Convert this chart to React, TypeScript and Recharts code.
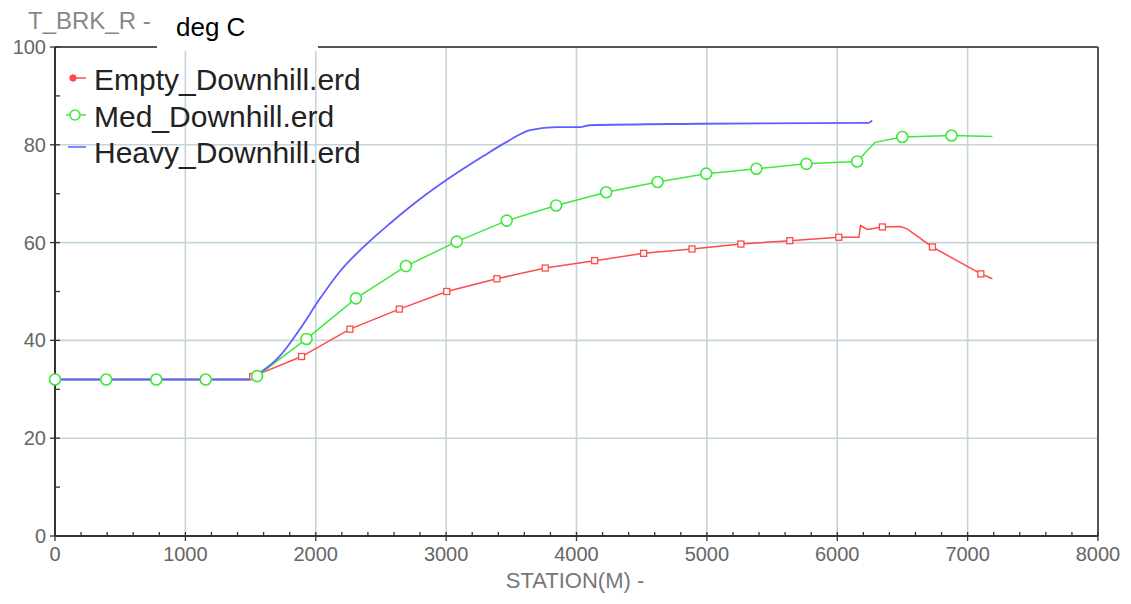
import React from "react";
import { LineChart, Line, XAxis, YAxis, ReferenceLine } from "recharts";

// station (m) / brake temperature (deg C)
const emptyStation = [0, 391, 766, 1141, 1494, 1516, 1891, 2262, 2641, 3005, 3389, 3760, 4139, 4515, 4886, 5261, 5636, 6012, 6166, 6179, 6230, 6346, 6485, 6536, 6730, 7101, 7190];
const emptyTemp = [32, 32, 32, 32, 32, 32.6, 36.7, 42.3, 46.4, 50.0, 52.6, 54.8, 56.3, 57.8, 58.7, 59.7, 60.4, 61.1, 61.1, 63.5, 62.7, 63.2, 63.3, 62.8, 59.1, 53.6, 52.6];
const emptyMarked = [1, 1, 1, 1, 0, 1, 1, 1, 1, 1, 1, 1, 1, 1, 1, 1, 1, 1, 0, 0, 0, 1, 0, 0, 1, 1, 0];

const medStation = [0, 393, 777, 1156, 1500, 1550, 1929, 2308, 2692, 3081, 3465, 3844, 4228, 4622, 4995, 5380, 5764, 6153, 6290, 6499, 6876, 7190];
const medTemp = [32, 32, 32, 32, 32, 32.7, 40.3, 48.6, 55.2, 60.2, 64.5, 67.6, 70.3, 72.4, 74.1, 75.1, 76.1, 76.6, 80.5, 81.6, 81.9, 81.7];
const medMarked = [1, 1, 1, 1, 0, 1, 1, 1, 1, 1, 1, 1, 1, 1, 1, 1, 1, 1, 0, 1, 1, 0];

const heavyStation = [0, 1480, 1571, 1724, 1878, 2031, 2185, 2390, 2569, 2800, 3030, 3286, 3465, 3644, 3849, 4028, 4100, 4950, 6200, 6240, 6268];
const heavyTemp = [32, 32, 33.4, 36.8, 42.3, 48.5, 54.1, 59.7, 63.9, 68.9, 73.3, 77.7, 80.6, 83.0, 83.6, 83.6, 84.0, 84.3, 84.5, 84.5, 85.0];

const xTicks = [0, 200, 400, 600, 800, 1000, 1200, 1400, 1600, 1800, 2000, 2200, 2400, 2600, 2800, 3000, 3200, 3400, 3600, 3800, 4000, 4200, 4400, 4600, 4800, 5000, 5200, 5400, 5600, 5800, 6000, 6200, 6400, 6600, 6800, 7000, 7200, 7400, 7600, 7800, 8000];
const yTicks = [0, 10, 20, 30, 40, 50, 60, 70, 80, 90, 100];
const gridX = [1000, 2000, 3000, 4000, 5000, 6000, 7000];
const gridY = [20, 40, 60, 80];

const RED = "#ff4a4a";
const GREEN = "#3ee83e";
const BLUE = "#5f5fff";
const FONT = "'Liberation Sans', Arial, sans-serif";

const toRows = (xs: number[], ys: number[], marks?: number[]) =>
  xs.map((x, i) => ({ x, y: ys[i], m: marks ? marks[i] : 0 }));

const emptyData = toRows(emptyStation, emptyTemp, emptyMarked);
const medData = toRows(medStation, medTemp, medMarked);
const heavyData = toRows(heavyStation, heavyTemp);

const SquareDot = (p: any) => {
  if (!p.payload.m) return <g key={`e${p.index}`} />;
  return (
    <rect key={`e${p.index}`} x={p.cx - 3} y={p.cy - 3} width={6} height={6}
      fill="#fff" stroke={RED} strokeWidth={1.3} />
  );
};

const CircleDot = (p: any) => {
  if (!p.payload.m) return <g key={`m${p.index}`} />;
  return (
    <circle key={`m${p.index}`} cx={p.cx} cy={p.cy} r={5.5}
      fill="#fff" stroke={GREEN} strokeWidth={1.6} />
  );
};

const XTick = (p: any) => {
  const v = p.payload.value;
  const major = v % 1000 === 0;
  return (
    <g>
      <line x1={p.x} x2={p.x} y1={p.y - 4} y2={major ? p.y + 5 : p.y} stroke="#333" strokeWidth={1.3} />
      {major && (
        <text x={p.x} y={p.y + 25} textAnchor="middle" fill="#666" fontSize={20} fontFamily={FONT}>
          {v}
        </text>
      )}
    </g>
  );
};

const YTick = (p: any) => {
  const v = p.payload.value;
  const major = v % 20 === 0;
  return (
    <g>
      <line x1={major ? p.x - 5 : p.x} x2={p.x + 5} y1={p.y} y2={p.y} stroke="#333" strokeWidth={1.3} />
      {major && (
        <text x={p.x - 9} y={p.y + 7} textAnchor="end" fill="#666" fontSize={20} fontFamily={FONT}>
          {v}
        </text>
      )}
    </g>
  );
};

const Overlay = () => (
  <svg width={1131} height={604} style={{ position: "absolute", left: 0, top: 0, pointerEvents: "none" }}>
    <rect x={157} y={0} width={161} height={51} fill="#fff" />
    <text x={28} y={29} fill="#888" fontSize={24} fontFamily={FONT}>T_BRK_R -</text>
    <text x={176} y={36} fill="#000" fontSize={26} fontFamily={FONT}>deg C</text>
    <text x={575} y={588} textAnchor="middle" fill="#777" fontSize={22} fontFamily={FONT}>STATION(M) -</text>
    {/* legend */}
    <line x1={70} x2={86} y1={78} y2={78} stroke={RED} strokeWidth={1.5} />
    <circle cx={73} cy={78} r={3.2} fill={RED} stroke={RED} />
    <text x={94} y={90} fill="#222" fontSize={30} fontFamily={FONT}>Empty_Downhill.erd</text>
    <line x1={66} x2={86} y1={115} y2={115} stroke={GREEN} strokeWidth={1.5} />
    <circle cx={75} cy={115} r={5} fill="#fff" stroke={GREEN} strokeWidth={1.5} />
    <text x={94} y={127} fill="#222" fontSize={30} fontFamily={FONT}>Med_Downhill.erd</text>
    <line x1={68} x2={86} y1={147} y2={147} stroke={BLUE} strokeWidth={1.5} />
    <text x={94} y={163} fill="#222" fontSize={30} fontFamily={FONT}>Heavy_Downhill.erd</text>
  </svg>
);

export default function App() {
  return (
    <div style={{ position: "absolute", left: 0, top: 0, width: 1131, height: 604, background: "#fff" }}>
      <LineChart width={1131} height={604} margin={{ top: 47, right: 33, left: 0, bottom: 0 }}>
        <XAxis dataKey="x" type="number" domain={[0, 8000]} ticks={xTicks} interval={0}
          height={68} tickSize={0} tickMargin={0} tickLine={false} tick={<XTick />}
          axisLine={{ stroke: "#333", strokeWidth: 2 }} />
        <YAxis dataKey="y" type="number" domain={[0, 100]} ticks={yTicks} interval={0}
          width={55} tickSize={0} tickMargin={0} tickLine={false} tick={<YTick />}
          axisLine={{ stroke: "#333", strokeWidth: 2 }} />
        {gridX.map((v) => (
          <ReferenceLine key={`gx${v}`} x={v} stroke="#c3d5da" strokeWidth={1.6} />
        ))}
        {gridY.map((v) => (
          <ReferenceLine key={`gy${v}`} y={v} stroke="#c3d5da" strokeWidth={1.6} />
        ))}
        <ReferenceLine y={100} stroke="#555" strokeWidth={2} />
        <ReferenceLine x={8000} stroke="#555" strokeWidth={2} />
        <Line data={emptyData} dataKey="y" type="linear" stroke={RED} strokeWidth={1.5}
          dot={SquareDot} activeDot={false} isAnimationActive={false} />
        <Line data={medData} dataKey="y" type="linear" stroke={GREEN} strokeWidth={1.5}
          dot={false} activeDot={false} isAnimationActive={false} />
        <Line data={heavyData} dataKey="y" type="monotone" stroke={BLUE} strokeWidth={1.8}
          dot={false} activeDot={false} isAnimationActive={false} />
        <Line data={medData} dataKey="y" type="linear" stroke="none"
          dot={CircleDot} activeDot={false} isAnimationActive={false} legendType="none" />
      </LineChart>
      <Overlay />
    </div>
  );
}
